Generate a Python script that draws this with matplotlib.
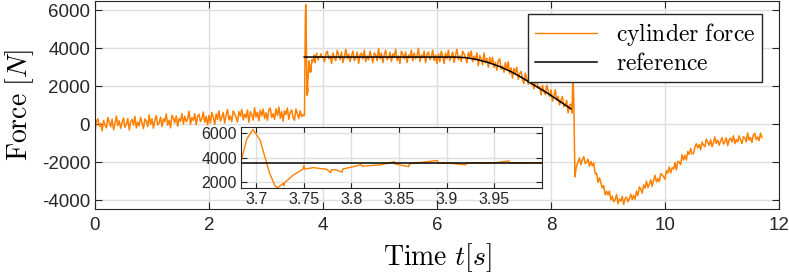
import matplotlib as mpl
mpl.use('Agg')
import matplotlib.pyplot as plt
import numpy as np
from matplotlib.ticker import FuncFormatter

mpl.rcParams['font.family'] = 'Liberation Sans'
mpl.rcParams['mathtext.fontset'] = 'cm'
mpl.rcParams['axes.unicode_minus'] = False

# --- data ---
# slow rise before the step (t = 0 ... 3.65, every 0.025 s)
t_pre = np.linspace(0, 3.65, 147)
f_pre = [-400, 150, 300, -100, 60, -340, 215, -30, -180, 370,
         125, -120, 280, -270, 35, 440, -60, 190, -205, 100,
         350, -150, 5, 310, -290, 160, 265, -30, 420, -180,
         125, -70, 380, 80, -215, 290, 190, -110, 500, 0,
         300, -195, 210, 470, -25, 80, 385, -110, 295, 150,
         560, -35, 220, -175, 480, 335, 90, 450, -95, 310,
         165, 570, 25, 430, 140, 295, 700, 5, 360, 215,
         570, -20, 435, 540, 145, 300, 655, 115, 420, -25,
         480, 85, 640, 395, 0, 555, 260, 715, 170, 375,
         630, 80, 485, 790, 245, 450, 155, 710, 565, 370,
         125, 680, 435, 790, 245, 550, 355, 760, 115, 670,
         520, 230, 880, 385, 640, 195, 750, 455, 810, 315,
         620, 220, 770, 870, 370, 570, 270, 820, 470, 920,
         320, 670, 170, 720, 520, 870, 270, 620, 770, 370,
         220, 820, 570, 320, 720, 420, 520]

# step transient (also shown in the inset)
t_step = [3.670, 3.675, 3.680, 3.684, 3.690, 3.6965, 3.704, 3.709, 3.714,
          3.720, 3.7227, 3.7286, 3.7290, 3.7295, 3.739, 3.749, 3.750, 3.751,
          3.760, 3.774, 3.778, 3.779, 3.784, 3.790, 3.791, 3.802, 3.810,
          3.811, 3.830, 3.845, 3.846, 3.860, 3.861, 3.865, 3.890, 3.891,
          3.900, 3.920, 3.921, 3.950, 3.965, 3.966, 4.000]
f_step = [450, 500, 2200, 3650, 5500, 6300, 5430, 4070, 2710,
          1620, 1540, 1890, 1700, 1920, 2570, 3030, 3350, 3050,
          3170, 3030, 2750, 3010, 2980, 2800, 3060, 3250, 3420,
          3290, 3390, 3650, 3460, 3250, 3490, 3530, 3750, 3540,
          3550, 3400, 3555, 3560, 3720, 3565, 3580]

# plateau and ramp down (t = 4.025 ... 8.35)
t_flat = np.linspace(4.025, 8.35, 174)
f_flat = [3310, 3710, 3860, 3460, 3610, 3210, 3760, 3510, 3360, 3910,
          3660, 3410, 3810, 3260, 3560, 3960, 3460, 3710, 3310, 3610,
          3860, 3360, 3510, 3810, 3210, 3660, 3760, 3460, 3910, 3310,
          3610, 3410, 3860, 3560, 3260, 3760, 3660, 3360, 4010, 3460,
          3760, 3260, 3660, 3910, 3410, 3510, 3810, 3310, 3710, 3560,
          3960, 3360, 3610, 3210, 3860, 3710, 3460, 3810, 3260, 3660,
          3510, 3910, 3360, 3760, 3460, 3610, 4010, 3310, 3660, 3510,
          3860, 3260, 3710, 3810, 3410, 3560, 3910, 3360, 3660, 3210,
          3710, 3310, 3860, 3610, 3210, 3760, 3460, 3910, 3360, 3560,
          3810, 3260, 3660, 3960, 3410, 3610, 3310, 3865, 3720, 3520,
          3255, 3795, 3530, 3870, 3305, 3595, 3380, 3770, 3100, 3630,
          3460, 3140, 3770, 3250, 3480, 3010, 3535, 3210, 3530, 3005,
          3280, 2855, 3375, 3450, 2915, 3080, 2750, 3265, 2880, 3300,
          2665, 2980, 2440, 2950, 2705, 3015, 2375, 2680, 2790, 2350,
          2155, 2705, 2410, 2115, 2470, 2120, 2175, 1880, 2235, 2340,
          1895, 2000, 1555, 2060, 1765, 1570, 2070, 1770, 1475, 1825,
          1225, 1475, 1830, 1280, 1480, 1030, 1280, 1475, 925, 1025,
          1275, 620, 1020, 1070]

# release
t_drop = [8.37, 8.385, 8.40, 8.42, 8.44, 8.47]
f_drop = [600, 2800, 1200, -2750, -2300, -2000]

# recovery (t = 8.5 ... 11.7)
t_post = np.linspace(8.5, 11.7, 129)
f_post = [-1760, -2122, -1855, -1692, -2055, -2010, -1825, -2200, -1945, -2175,
          -2020, -2590, -2565, -3055, -2810, -3065, -3350, -3215, -3710, -3510,
          -3705, -3505, -3970, -3780, -4070, -3965, -3685, -4175, -3930, -4035,
          -3790, -4210, -3895, -3825, -4065, -3920, -3675, -3950, -3740, -3935,
          -3515, -3735, -3290, -3395, -3615, -3180, -3350, -2985, -3325, -3140,
          -2915, -3255, -2930, -2680, -3025, -2845, -3015, -2590, -2655, -2755,
          -2890, -2440, -2550, -2235, -2555, -2280, -2350, -2005, -2395, -1940,
          -1975, -2115, -1590, -1870, -1625, -1870, -1425, -1575, -1265, -1550,
          -1525, -1185, -1015, -1230, -1065, -1330, -925, -1085, -1175, -770,
          -930, -1095, -802, -1175, -953, -662, -1000, -818, -1091, -874,
          -690, -1033, -921, -704, -1117, -795, -718, -921, -595, -1008,
          -790, -923, -600, -803, -1005, -648, -710, -913, -450, -828,
          -680, -950, -555, -470, -805, -655, -850, -455, -685]

# reference force
t_ref = [3.67, 6.3, 6.5, 6.7, 6.9, 7.1, 7.3, 7.5, 7.7, 7.9, 8.1, 8.35]
f_ref = [3550, 3550, 3520, 3420, 3260, 3050, 2780, 2450, 2080, 1720, 1330, 820]

t_all = np.concatenate([t_pre, t_step, t_flat, t_drop, t_post])
f_all = np.concatenate([f_pre, f_step, f_flat, f_drop, f_post])

orange = '#ff8000'
dark = '#262626'
gridc = '#dedede'

fig = plt.figure(figsize=(7.89, 2.76), dpi=100)
ax = fig.add_axes([95/789, 1 - 209/276, 684/789, 208/276])

ax.plot(t_all, f_all, color=orange, lw=1.1, label=r'$\mathrm{cylinder\ force}$')
ax.plot(t_ref, f_ref, color='black', lw=1.1, label=r'$\mathrm{reference}$')

ax.set_xlim(0, 12)
ax.set_ylim(-4450, 6500)
ax.set_xticks([0, 2, 4, 6, 8, 10, 12])
ax.set_yticks([-4000, -2000, 0, 2000, 4000, 6000])
ax.grid(True, color=gridc, lw=1)
ax.set_axisbelow(True)
ax.tick_params(direction='in', top=True, right=True, length=5, color=dark,
               labelcolor=dark, labelsize=13.5)
ax.tick_params(axis='x', pad=6)
for s in ax.spines.values():
    s.set_color(dark)
ax.set_xlabel(r'$\mathrm{Time}\ t[s]$', fontsize=20, labelpad=5)
ax.set_ylabel(r'$\mathrm{Force}\ [N]$', fontsize=20, labelpad=4)

leg = ax.legend(loc='upper right', bbox_to_anchor=(0.975, 0.9375), borderaxespad=0,
                fontsize=17, fancybox=False, framealpha=1, edgecolor=dark,
                handlelength=2.6, labelspacing=0.2, borderpad=0.3)
leg.get_frame().set_linewidth(1.0)
leg.get_lines()[0].set_linewidth(1.0)

# inset with the step transient
axi = fig.add_axes([241/789, 1 - 188/276, 301/789, 61/276])
axi.plot(t_all, f_all, color=orange, lw=1.0)
axi.plot(t_ref, f_ref, color='black', lw=1.1)
axi.set_xlim(3.684, 4.0)
axi.set_ylim(1500, 6500)
axi.set_xticks([3.7, 3.75, 3.8, 3.85, 3.9, 3.95])
axi.set_yticks([2000, 4000, 6000])
axi.xaxis.set_major_formatter(FuncFormatter(lambda v, p: '%g' % v))
axi.grid(True, color=gridc, lw=1)
axi.set_axisbelow(True)
axi.tick_params(direction='in', top=True, right=True, length=4, color=dark,
                labelcolor=dark, labelsize=11.5, pad=3)
for s in axi.spines.values():
    s.set_color(dark)

fig.savefig('out.png', dpi=100)
